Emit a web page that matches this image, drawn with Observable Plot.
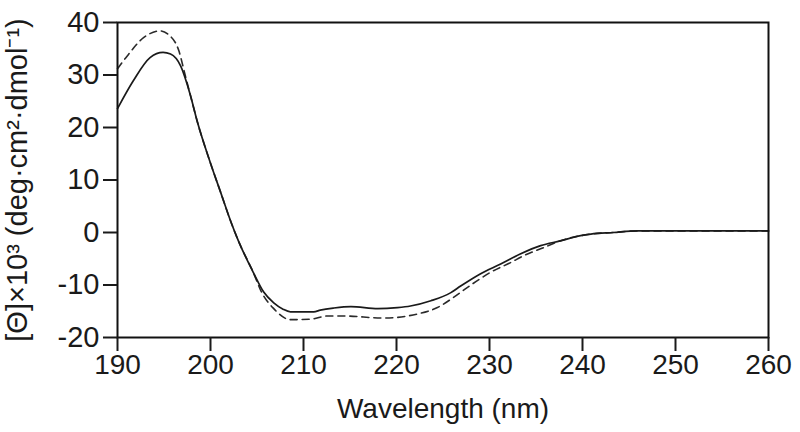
<!DOCTYPE html>
<html><head><meta charset="utf-8">
<script src="https://cdn.jsdelivr.net/npm/d3@7"></script>
<script src="https://cdn.jsdelivr.net/npm/@observablehq/plot@0.6"></script>
<style>body{margin:0;background:#fff}</style>
</head><body><div id="chart"></div>
<script>
const xTicks = [190, 200, 210, 220, 230, 240, 250, 260];
const yTicks = [-20, -10, 0, 10, 20, 30, 40];
const xLabel = "Wavelength (nm)";
const yLabel = "[Θ]×10³ (deg·cm²·dmol⁻¹)";

const solidWavelength = [190.0, 191.7, 193.5, 194.9, 195.7, 196.8, 197.8, 198.6, 200.0, 201.1, 202.2, 203.0, 204.6, 205.7, 206.8, 207.8, 208.6, 211.1, 211.8, 213.2, 215.1, 218.0, 220.1, 221.5, 223.7, 225.8, 226.9, 229.0, 231.2, 233.3, 235.5, 237.6, 239.8, 240.9, 243.3, 245.9, 260.0];
const solidTheta = [23.6, 28.9, 33.3, 34.3, 34.0, 31.7, 26.4, 21.0, 13.2, 7.6, 2.0, -1.6, -7.6, -11.3, -13.4, -14.6, -15.1, -15.1, -14.8, -14.4, -14.1, -14.5, -14.3, -14.0, -13.0, -11.5, -10.2, -7.9, -6.0, -4.1, -2.5, -1.6, -0.6, -0.3, 0.0, 0.3, 0.3];

const dashedWavelength = [190.0, 190.9, 192.8, 194.6, 195.4, 196.6, 197.3, 197.8, 198.6, 200.0, 201.1, 202.2, 203.0, 204.6, 205.5, 206.8, 208.6, 210.8, 212.6, 214.3, 218.6, 222.3, 224.4, 226.1, 227.6, 230.1, 232.3, 233.7, 235.8, 237.6, 239.8, 240.9, 243.3, 245.9, 260.0];
const dashedTheta = [31.2, 33.3, 37.1, 38.4, 37.8, 34.6, 29.8, 26.4, 21.0, 13.2, 7.6, 2.0, -1.6, -7.6, -11.4, -14.5, -16.6, -16.5, -15.9, -15.9, -16.3, -15.5, -14.3, -12.4, -10.5, -7.6, -5.7, -4.4, -2.9, -1.6, -0.6, -0.3, 0.0, 0.3, 0.3];

const solid = solidWavelength.map((x, i) => ({x, y: solidTheta[i]}));
const dashed = dashedWavelength.map((x, i) => ({x, y: dashedTheta[i]}));

const chart = Plot.plot({
  width: 800, height: 432,
  marginLeft: 117, marginRight: 32, marginTop: 22, marginBottom: 95,
  style: {fontFamily: "'Liberation Sans', Arial, sans-serif", fontSize: "28px", color: "#1a1a1a", background: "#fff", overflow: "visible"},
  x: {domain: [190, 260]},
  y: {domain: [-20, 40]},
  marks: [
    Plot.line(dashed, {x: "x", y: "y", stroke: "#2a2a2a", strokeWidth: 1.6, strokeDasharray: "7,5", curve: "monotone-x"}),
    Plot.line(solid, {x: "x", y: "y", stroke: "#1a1a1a", strokeWidth: 1.7, curve: "monotone-x"}),
    Plot.frame({stroke: "#111", strokeWidth: 2}),
    Plot.axisX({ticks: xTicks, tickSize: 14, tickPadding: 3, strokeWidth: 2, tickFormat: d => String(d), label: xLabel, labelAnchor: "center", labelArrow: "none", labelOffset: 80}),
    Plot.axisY({ticks: yTicks, tickSize: 14, tickPadding: 4, strokeWidth: 2, tickFormat: d => String(d), label: yLabel, labelAnchor: "center", labelArrow: "none", labelOffset: 111, fontSize: 29})
  ]
});
document.getElementById("chart").appendChild(chart);
</script>
</body></html>
